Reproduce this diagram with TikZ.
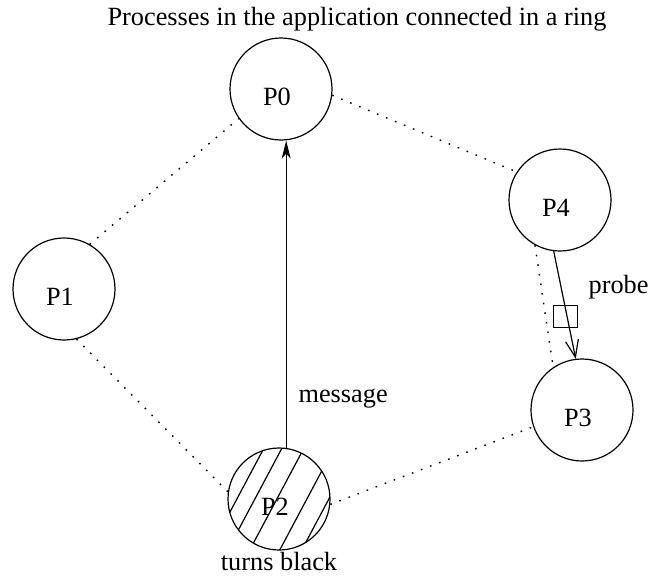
\documentclass[tikz,border=0pt]{standalone}
\usepackage{fontspec}
\setmainfont{Liberation Serif}
\usetikzlibrary{arrows.meta}

\begin{document}
\begin{tikzpicture}[x = 0.5pt, y = -0.5pt, % one unit is one pixel, y goes down
                > = {Stealth[length = 9pt, width = 4.5pt, inset = 2.5pt]}, % arrow head style
                font = \fontsize{13.15pt}{15pt}\selectfont,
                semithick % line style
            ]

            \tikzstyle{proc}=[draw = black, circle, inner sep = 0pt,
            minimum size = 51pt]
            \tikzstyle{pname}=[xshift = -2pt, yshift = -4pt]
            \tikzstyle{ring}=[line width = 0.7pt, dash pattern = on 0.8pt off 4.05pt]
            \tikzstyle{txt}=[inner sep = 0pt, anchor = base west]

            \useasboundingbox (0,0) rectangle (649,575);

            \node[txt] (title) at (107,25) {Processes in the application connected in a ring};

            \node[proc, label = {[pname]center:P0}] (p0) at (281,89) {};
            \node[proc, label = {[pname]center:P1}] (p1) at (64,289) {};
            \node[proc, label = {[pname]center:P2}] (p2) at (279,499) {};
            \node[proc, label = {[pname]center:P3}] (p3) at (582,410) {};
            \node[proc, label = {[pname]center:P4}] (p4) at (560,200) {};

            % P2 is hatched
            \begin{scope}
                \clip (p2.center) circle [radius = 25.5pt];
                \foreach \hx in {239,257,279,309,331}
                    \draw (\hx-33,557) -- (\hx+33,433);
            \end{scope}

            % the ring
            \draw[ring] (p1.60) -- (p0.215);
            \draw[ring] (p0.-7) -- (p4.147);
            \draw[ring] (p1.-76) -- (p2.172);
            \draw[ring] (p2.-6) -- (p3.199);
            \draw[ring] (p4.241) -- (p3.124);

            \path[->] (p2.82) edge (p2.82 |- p0.south);
            \path[-{Straight Barb[length = 8.5pt, width = 6.5pt]}] (p4.263) edge (p3.97);

            \node[draw = black, thin, inner sep = 0pt, minimum width = 12pt,
            minimum height = 11pt] (packet) at (565,316) {};

            \node[txt] (message) at (298,402) {message};
            \node[txt] (probe) at (588,293) {probe};
            \node[txt, anchor = base] (black) at (279,570) {turns black};
\end{tikzpicture}
\end{document}
